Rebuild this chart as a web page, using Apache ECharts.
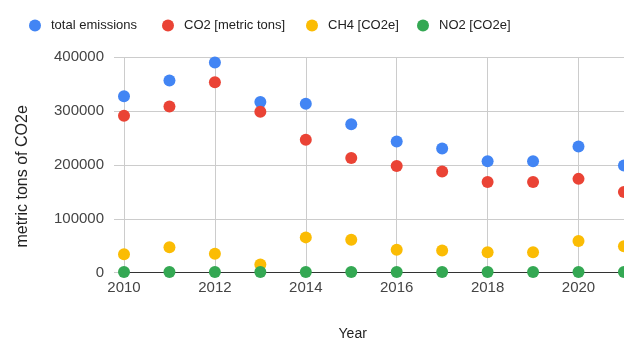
<!DOCTYPE html>
<html>
<head>
<meta charset="utf-8">
<script src="https://cdn.jsdelivr.net/npm/echarts@6/dist/echarts.min.js"></script>
<style>
  html, body { margin: 0; padding: 0; background: #fff; }
  #chart { width: 624px; height: 338px; }
</style>
</head>
<body>
<div id="chart"></div>
<script>
// Annual emissions, metric tons of CO2 equivalent
const years = [2010, 2011, 2012, 2013, 2014, 2015, 2016, 2017, 2018, 2019, 2020, 2021];
const totalEmissions = [327000, 356500, 390000, 316500, 313500, 275500, 243500, 230500, 206500, 206500, 234000, 199000];
const co2 = [291000, 308000, 353000, 298500, 246500, 212500, 198000, 187500, 168000, 168000, 174000, 149500];
const ch4 = [34000, 47000, 35000, 15000, 65500, 61000, 42500, 41000, 38000, 38000, 59000, 49000];
const no2 = [1500, 1500, 1500, 1500, 1500, 1500, 1500, 1500, 1500, 1500, 1500, 1500];

const seriesNames = ['total emissions', 'CO2 [metric tons]', 'CH4 [CO2e]', 'NO2 [CO2e]'];
const seriesValues = [totalEmissions, co2, ch4, no2];
const colors = ['#4285F4', '#EA4335', '#FBBC04', '#34A853'];
const yTicks = [0, 100000, 200000, 300000, 400000];

const FONT = 'Arial, "Liberation Sans", sans-serif';
const legendLeft = [29, 162, 306, 417];

const chart = echarts.init(document.getElementById('chart'), null, { renderer: 'canvas' });

chart.setOption({
  animation: false,
  color: colors,
  textStyle: { fontFamily: FONT },
  legend: seriesNames.map((name, i) => ({
    data: [name],
    left: legendLeft[i],
    top: 19,
    icon: 'circle',
    itemWidth: 12,
    itemHeight: 12,
    itemGap: 0,
    padding: 0,
    selectedMode: false,
    textStyle: { fontFamily: FONT, fontSize: 13, color: '#222', padding: [0, 0, 0, 5] }
  })),
  // plot area runs past the right edge of the canvas (2022 sits off-screen)
  grid: { left: 124, top: 57, width: 545.4, height: 215.7, outerBoundsMode: 'none', containLabel: false },
  xAxis: {
    type: 'value',
    min: 2010,
    max: 2022,
    interval: 2,
    name: 'Year',
    nameLocation: 'middle',
    nameGap: 54,
    nameTextStyle: { fontFamily: FONT, fontSize: 14, color: '#222', padding: [0, 88, 0, 0] },
    axisLine: { show: true, lineStyle: { color: '#333', width: 1 } },
    axisTick: { show: false },
    axisLabel: { fontFamily: FONT, fontSize: 15, color: '#444', margin: 8, formatter: v => String(v) },
    splitLine: { show: true, lineStyle: { color: '#ccc', width: 1 } }
  },
  yAxis: {
    type: 'value',
    min: yTicks[0],
    max: yTicks[yTicks.length - 1],
    interval: 100000,
    name: 'metric tons of CO2e',
    nameLocation: 'middle',
    nameGap: 93,
    nameRotate: 90,
    nameTextStyle: { fontFamily: FONT, fontSize: 16, color: '#222', padding: [0, 23, 0, 0] },
    axisLine: { show: false },
    axisTick: { show: true, inside: false, length: 10, lineStyle: { color: '#ccc' } },
    axisLabel: { fontFamily: FONT, fontSize: 15, color: '#444', margin: 20, formatter: v => String(v) },
    splitLine: { show: true, lineStyle: { color: '#ccc', width: 1 } }
  },
  series: seriesNames.map((name, i) => ({
    name: name,
    type: 'scatter',
    symbol: 'circle',
    symbolSize: 12,
    itemStyle: { color: colors[i], opacity: 1 },
    data: years.map((y, k) => [y, seriesValues[i][k]])
  }))
});
</script>
</body>
</html>
